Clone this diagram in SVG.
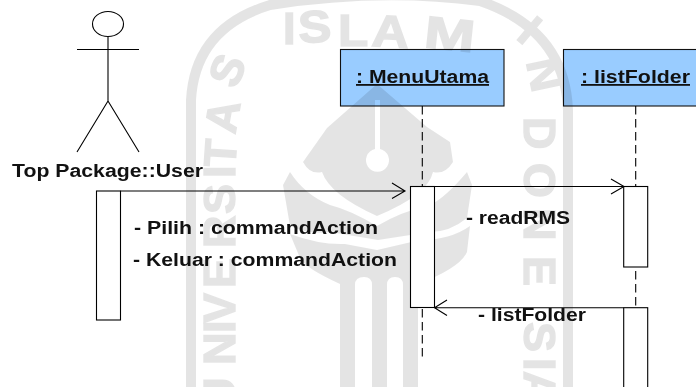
<svg xmlns="http://www.w3.org/2000/svg" width="696" height="387" viewBox="0 0 696 387">
<style>
.l{fill:none;stroke:#000;stroke-width:1.1}
.a{fill:#fff;stroke:#000;stroke-width:1.1}
.b{fill:#9cf;stroke:#111;stroke-width:1.1;mix-blend-mode:multiply}
.d{fill:none;stroke:#000;stroke-width:1.1;stroke-dasharray:8.500 4.500}
.t{font-family:"Liberation Sans",Arial,sans-serif;font-weight:bold;font-size:18px;fill:#111}
.w{font-family:"Liberation Sans",Arial,sans-serif;font-weight:bold;font-size:45px;fill:#000;stroke:#000;stroke-width:1.5}
</style>
<rect width="696" height="387" fill="#fff"/>
<g id="watermark" opacity=".1">
<path d="M191 387V100Q195 28 270 5Q380 -12 480 1Q565 30 568 110V387" fill="none" stroke="#000" stroke-width="10"/>
<path fill-rule="evenodd" d="M377 84L327 128L303 162Q310 175 322 172Q330 195 377 216Q428 195 433 172Q445 175 453 162L450 142L427 127ZM375 100H380V149A11.500 11.500 0 1 1 375 149Z"/>
<path d="M290 172L283 185L290 226Q310 235 330 232L378 240L430 232Q450 232 467 218L472 185L467 172Q445 198 430 205Q400 212 377 226Q350 210 330 205Q305 195 290 172Z"/>
<path d="M290 234Q320 245 345 244L377 250L420 240Q450 240 470 226L467 252Q460 268 418 284V387H403V285Q403 277 395 277Q387 277 387 285V387H372V285Q372 277 364 277Q355 277 355 285V387H340V284Q305 268 300 258Z"/>
<g class="w">
<text transform="translate(283 44)">I</text>
<text transform="translate(299 43) rotate(-3) scale(1.1 1)">S</text>
<text transform="translate(338 46) scale(1.1 1)">L</text>
<text transform="translate(371 46) rotate(3) scale(1.15 1)">A</text>
<text transform="translate(423 47) rotate(6) scale(1.35 1)">M</text>
<text transform="translate(515 38) rotate(40)">I</text>
<text transform="translate(526 62) rotate(78)">N</text>
<text transform="translate(524 117) rotate(90)">D</text>
<text transform="translate(524 163) rotate(90)">O</text>
<text transform="translate(524 208) rotate(90)">N</text>
<text transform="translate(524 256) rotate(90)">E</text>
<text transform="translate(524 322) rotate(90)">S</text>
<text transform="translate(524 358) rotate(90)">I</text>
<text transform="translate(524 371) rotate(90)">A</text>
<text transform="translate(236 90) rotate(-68)">S</text>
<text transform="translate(235 135) rotate(-80)">A</text>
<text transform="translate(235 168) rotate(-86)">T</text>
<text transform="translate(235 178) rotate(-90)">I</text>
<text transform="translate(235 214) rotate(-90)">S</text>
<text transform="translate(235 248) rotate(-90)">R</text>
<text transform="translate(235 288) rotate(-90)">E</text>
<text transform="translate(235 323) rotate(-90)">V</text>
<text transform="translate(235 333) rotate(-90)">I</text>
<text transform="translate(235 365) rotate(-90)">N</text>
<text transform="translate(235 410) rotate(-90)">U</text>
</g>
</g>
<g id="user">
<ellipse class="l" cx="108" cy="24" rx="15.500" ry="12.500"/>
<path class="l" d="M108 37V101M77 49.500H139M108 101L77 152M108 101L139 152"/>
<text class="t" x="12" y="177" textLength="191" lengthAdjust="spacingAndGlyphs">Top Package::User</text>
<rect class="a" x="96.500" y="191" width="24" height="129"/>
</g>
<g id="menuUtama">
<rect class="b" x="340.500" y="49.500" width="163.500" height="56.500"/>
<text class="t" x="356" y="83" textLength="133" lengthAdjust="spacingAndGlyphs" text-decoration="underline">: MenuUtama</text>
<rect class="a" x="410.500" y="186.500" width="24" height="121"/>
</g>
<g id="listFolder">
<rect class="b" x="563.500" y="49.500" width="140" height="56.500"/>
<text class="t" x="581" y="83" textLength="109" lengthAdjust="spacingAndGlyphs" text-decoration="underline">: listFolder</text>
<rect class="a" x="623.700" y="186.500" width="24" height="80.500"/>
<rect class="a" x="623.700" y="307.700" width="24" height="90"/>
</g>
<g id="connectors">
<path class="d" d="M422.300 106V186M422.300 309V357M635.700 106V186M635.700 271V307"/>
<path class="l" d="M120.500 191H405M392 183L405 191L392 198.500"/>
<path class="l" d="M434.500 186.500H623.700M611 179L624 186.500L611 194"/>
<path class="l" d="M623.700 307.700H434.500M447 300L434.500 307.700L447 315.500"/>
</g>
<g id="labels">
<text class="t" x="134" y="234" textLength="244" lengthAdjust="spacingAndGlyphs">- Pilih : commandAction</text>
<text class="t" x="133" y="266" textLength="264" lengthAdjust="spacingAndGlyphs">- Keluar : commandAction</text>
<text class="t" x="466" y="224" textLength="104" lengthAdjust="spacingAndGlyphs">- readRMS</text>
<text class="t" x="478" y="321" textLength="108" lengthAdjust="spacingAndGlyphs">- listFolder</text>
</g>
</svg>
